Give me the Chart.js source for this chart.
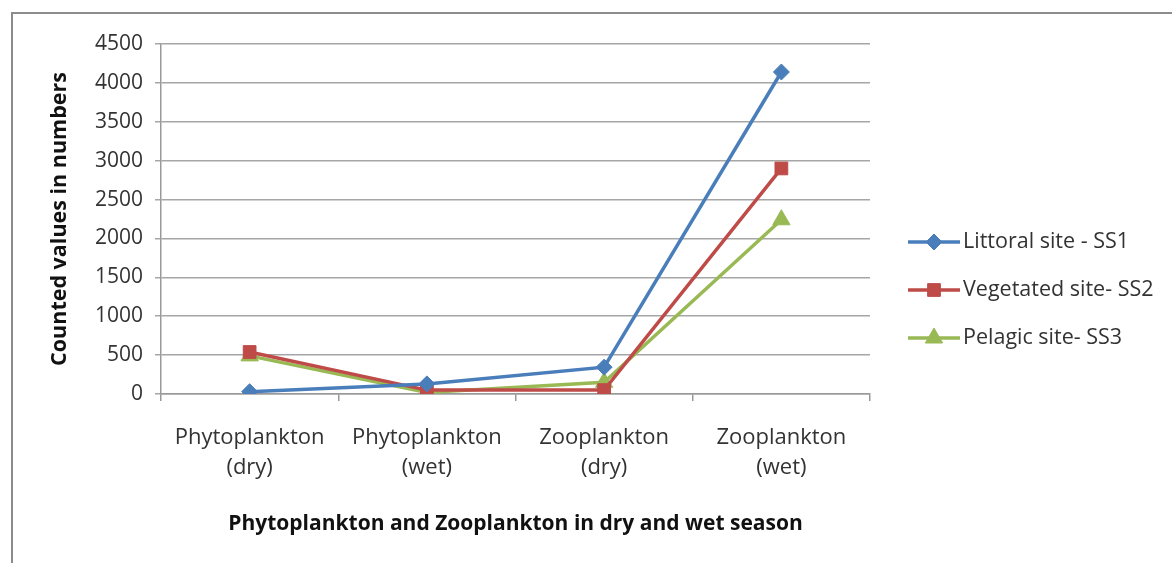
<!DOCTYPE html>
<html>
<head>
<meta charset="utf-8">
<script src="https://cdn.jsdelivr.net/npm/chart.js@4"></script>
<style>
  html, body { margin: 0; padding: 0; background: #fff; }
  #wrap { position: relative; width: 1172px; height: 563px; overflow: hidden; }
  #frame { position: absolute; left: 11px; top: 12px; width: 1300px; height: 700px; border: 2px solid #8c8c8c; box-sizing: border-box; }
  canvas { position: absolute; left: 0; top: 0; }
</style>
</head>
<body>
<div id="wrap">
  <div id="frame"></div>
  <canvas id="c" width="1172" height="563"></canvas>
</div>
<script>
const categories = [["Phytoplankton", "(dry)"], ["Phytoplankton", "(wet)"], ["Zooplankton", "(dry)"], ["Zooplankton", "(wet)"]];
const seriesNames = ["Littoral site - SS1", "Vegetated site- SS2", "Pelagic site- SS3"];
const littoralSS1 = [30, 130, 345, 4140];
const vegetatedSS2 = [540, 50, 50, 2900];
const pelagicSS3 = [490, 20, 150, 2240];
const yTicks = [0, 500, 1000, 1500, 2000, 2500, 3000, 3500, 4000, 4500];
const yAxisTitle = "Counted values in numbers";
const xAxisTitle = "Phytoplankton and Zooplankton in dry and wet season";

const FONT = "'Open Sans', Lato, sans-serif";
const colors = ["#4A7EBB", "#BE4B48", "#98B954"];
const styles = ["rectRot", "rect", "triangle"];
const radii = [8, 9, 10];

const datasets = [littoralSS1, vegetatedSS2, pelagicSS3].map((d, i) => ({
  label: seriesNames[i],
  data: d,
  borderColor: colors[i],
  backgroundColor: colors[i],
  borderWidth: 3.5,
  pointStyle: styles[i],
  pointRadius: radii[i],
  pointHoverRadius: radii[i],
  pointBorderWidth: 1,
  tension: 0
}));

const legendPlugin = {
  id: 'customLegend',
  afterDraw(chart) {
    const ctx = chart.ctx;
    const x0 = 908, x1 = 960, tx = 963;
    const ys = [242, 290, 338];
    chart.data.datasets.forEach((ds, i) => {
      const y = ys[i];
      ctx.save();
      ctx.strokeStyle = ds.borderColor;
      ctx.lineWidth = 3.5;
      ctx.beginPath(); ctx.moveTo(x0, y); ctx.lineTo(x1, y); ctx.stroke();
      ctx.fillStyle = ds.backgroundColor;
      ctx.strokeStyle = ds.borderColor;
      ctx.lineWidth = 1;
      Chart.helpers.drawPoint(ctx, { pointStyle: ds.pointStyle, radius: ds.pointRadius, borderWidth: 1, rotation: 0 }, (x0 + x1) / 2, y);
      ctx.fillStyle = "#333";
      ctx.font = "21.5px " + FONT;
      ctx.textBaseline = "middle";
      ctx.textAlign = "left";
      ctx.fillText(ds.label, tx, y);
      ctx.restore();
    });
  }
};

new Chart(document.getElementById('c'), {
  type: 'line',
  data: { labels: categories, datasets },
  plugins: [legendPlugin],
  options: {
    responsive: false,
    animation: false,
    layout: { padding: { left: 0, top: 44, right: 302, bottom: 0 } },
    plugins: { legend: { display: false }, tooltip: { enabled: false } },
    scales: {
      x: {
        offset: true,
        grid: { display: true, drawOnChartArea: false, offset: true, tickLength: 7, color: "#999", lineWidth: 1.5 },
        border: { display: true, color: "#999", width: 1.5 },
        ticks: { color: "#333", font: { family: FONT, size: 22, lineHeight: 1.36 }, padding: 22, maxRotation: 0, autoSkip: false },
        title: { display: true, text: xAxisTitle, color: "#111", font: { family: FONT, size: 21, weight: 'bold' }, padding: { top: 0, bottom: 26 } },
        afterFit(scale) { scale.height = 169; }
      },
      y: {
        min: 0, max: 4500,
        afterBuildTicks(scale) { scale.ticks = yTicks.map(v => ({ value: v })); },
        grid: { color: "#a6a6a6", lineWidth: 1.5, tickLength: 6 },
        border: { display: true, color: "#999", width: 1.5 },
        ticks: { color: "#333", font: { family: FONT, size: 21 }, padding: 12, callback: v => String(v) },
        title: { display: true, text: yAxisTitle, color: "#111", font: { family: FONT, size: 21.5, weight: 'bold' }, padding: { top: 47, bottom: 0 } },
        afterFit(scale) { scale.width = 161; }
      }
    }
  }
});
</script>
</body>
</html>
